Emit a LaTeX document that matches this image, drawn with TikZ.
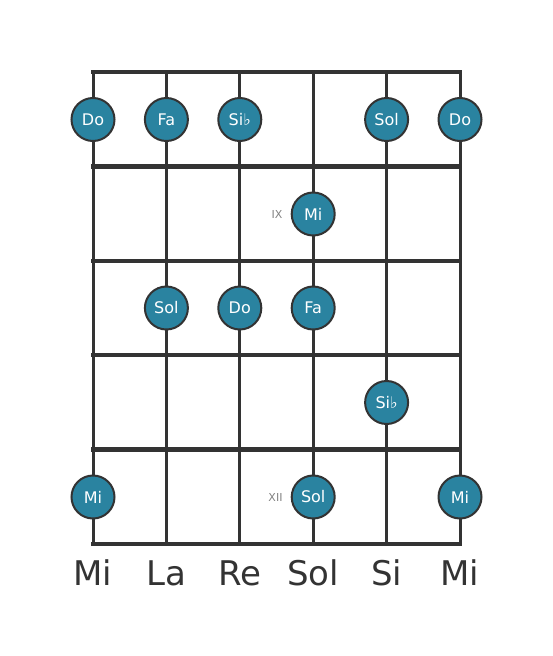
\documentclass[tikz,border=0pt]{standalone}
\usepackage{fontspec}
\setmainfont{DejaVu Sans}
\usetikzlibrary{positioning}
\definecolor{dotteal}{RGB}{42,131,160}
\definecolor{boardgray}{RGB}{51,51,51}
\definecolor{fretgray}{RGB}{130,130,130}

\begin{document}
\begin{tikzpicture}[x=1pt, y=-1pt]
    % Styles
    \tikzstyle{string} = [draw=boardgray, line width=3pt]
    \tikzstyle{fret} = [draw=boardgray, line width=4.5pt, line cap=rect]
    \tikzstyle{note} = [circle, draw=boardgray, line width=2pt, fill=dotteal, minimum size=43pt, inner sep=0pt, text=white, font=\fontsize{16}{16}\selectfont]
    \tikzstyle{fretnum} = [text=fretgray, font=\fontsize{11}{11}\selectfont, inner sep=0pt]
    \tikzstyle{tuning} = [text=boardgray, anchor=base, font=\fontsize{34}{34}\selectfont]

    \useasboundingbox (0,0) rectangle (553,656);

    % Board
    \foreach \x in {93,166.4,239.8,313.2,386.6,460}
        \draw[string] (\x,72) -- (\x,544);
    \foreach \y in {72,166.4,260.8,355.2,449.6,544}
        \draw[fret] (93,\y) -- (460,\y);

    % Nodes
    \node[note] (do1) at (93,119.5) {Do};
    \node[note] (fa1) at (166.4,119.5) {Fa};
    \node[note] (sib1) at (239.8,119.5) {Si♭};
    \node[note] (sol1) at (386.6,119.5) {Sol};
    \node[note] (do2) at (460,119.5) {Do};

    \node[note] (mi1) at (313.2,214) {Mi};
    \node[fretnum, left=8pt of mi1] (ix) {IX};

    \node[note] (sol2) at (166.4,308) {Sol};
    \node[note] (do3) at (239.8,308) {Do};
    \node[note] (fa2) at (313.2,308) {Fa};

    \node[note] (sib2) at (386.6,402.5) {Si♭};

    \node[note] (mi2) at (93,497) {Mi};
    \node[note] (sol3) at (313.2,497) {Sol};
    \node[fretnum, left=8pt of sol3] (xii) {XII};
    \node[note] (mi3) at (460,497) {Mi};

    % Tuning
    \node[tuning] (t1) at (93,585) {Mi};
    \node[tuning] (t2) at (166.4,585) {La};
    \node[tuning] (t3) at (239.8,585) {Re};
    \node[tuning] (t4) at (313.2,585) {Sol};
    \node[tuning] (t5) at (386.6,585) {Si};
    \node[tuning] (t6) at (460,585) {Mi};

\end{tikzpicture}
\end{document}
